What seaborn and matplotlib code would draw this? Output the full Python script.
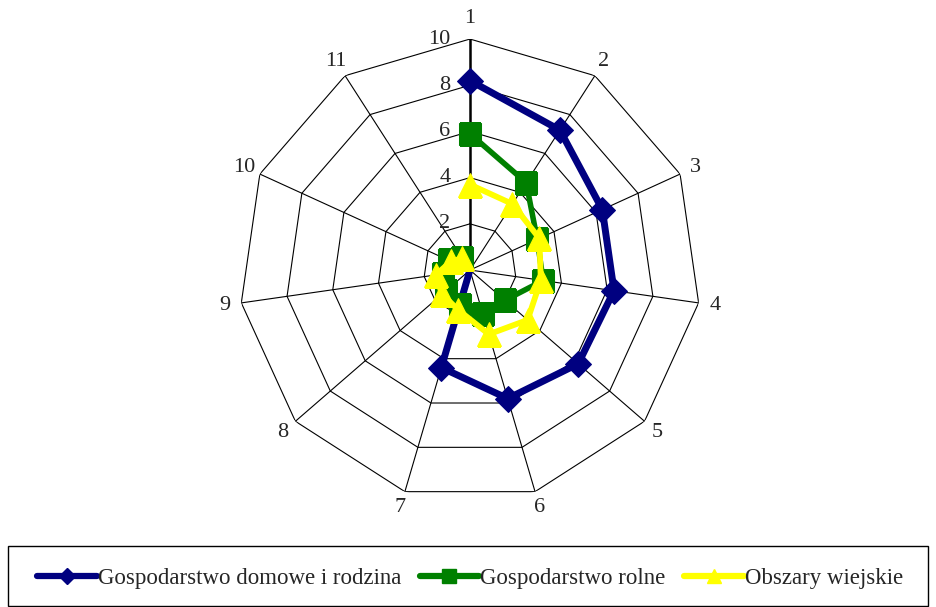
import numpy as np
import pandas as pd
import matplotlib
matplotlib.use('Agg')
import matplotlib.pyplot as plt
from matplotlib.patches import Rectangle
from matplotlib.lines import Line2D
import seaborn as sns

# -------------------------------
# DATA
# -------------------------------
categories = ['1', '2', '3', '4', '5', '6', '7', '8', '9', '10', '11']
# series 1 has values only for axes 1-7, then drops to the centre
dom_rodzina = [8.2, 7.2, 6.3, 6.3, 6.2, 5.8, 4.4, 0]
gosp_rolne = [5.9, 4.5, 3.2, 3.2, 2.0, 2.0, 1.6, 1.4, 1.2, 1.0, 0.6]
obszary_wiejskie = [3.7, 3.4, 3.3, 3.1, 3.3, 2.9, 1.8, 1.6, 1.5, 0.9, 0.6]
ring_levels = [0, 2, 4, 6, 8, 10]
series_names = ['Gospodarstwo domowe i rodzina', 'Gospodarstwo rolne', 'Obszary wiejskie']

sns.set_style('white')
plt.rcParams['font.family'] = ['Liberation Serif', 'DejaVu Serif']

n = len(categories)
theta = 2 * np.pi * np.arange(n) / n

fig = plt.figure(figsize=(9.36, 6.07), dpi=100)
ax = fig.add_axes([0.2553, 0.1746, 0.4936, 0.7611], projection='polar')
ax.set_theta_offset(np.pi / 2)
ax.set_theta_direction(-1)
ax.set_ylim(0, 10)
ax.grid(False)
ax.set_xticks([])
ax.set_yticks([])
ax.spines['polar'].set_visible(False)
ax.patch.set_alpha(0)

# polygon grid
closed_theta = np.append(theta, theta[0])
for r in ring_levels[1:]:
    ax.plot(closed_theta, [r] * (n + 1), color='black', lw=0.8, zorder=1)
for i, t in enumerate(theta):
    ax.plot([t, t], [0, 10], color='black', lw=1.8 if i == 0 else 0.8, zorder=1)

# radial tick labels along axis 1
for r in ring_levels:
    ax.annotate(str(r), xy=(0, r), xytext=(-14, 0), textcoords='offset points',
                ha='right', va='center', fontsize=16, annotation_clip=False)

# category labels
for t, lab in zip(theta, categories):
    rr = 10.9 if lab == '1' else 10.72
    ax.text(t, rr, lab, ha='center', va='center', fontsize=16, clip_on=False)

# series
df_blue = pd.DataFrame({'theta': theta[:len(dom_rodzina)], 'val': dom_rodzina})
sns.lineplot(data=df_blue, x='theta', y='val', ax=ax, sort=False, color='#000080',
             lw=5, marker='D', markersize=13, markeredgecolor='#000080',
             markevery=list(range(7)), zorder=3)

df_green = pd.DataFrame({'theta': closed_theta, 'val': gosp_rolne + gosp_rolne[:1]})
sns.lineplot(data=df_green, x='theta', y='val', ax=ax, sort=False, color='#008000',
             lw=4, marker='s', markersize=16, markeredgecolor='#008000', zorder=4)

df_yellow = pd.DataFrame({'theta': closed_theta, 'val': obszary_wiejskie + obszary_wiejskie[:1]})
sns.lineplot(data=df_yellow, x='theta', y='val', ax=ax, sort=False, color='#FFFF00',
             lw=4.2, marker='^', markersize=17, markeredgecolor='#FFFF00', zorder=5)
ax.set_xlabel('')
ax.set_ylabel('')
ax.set_ylim(0, 10)

# legend
fig.patches.append(Rectangle((8 / 936, 1 / 607), 920 / 936, 60 / 607, transform=fig.transFigure,
                             fill=False, edgecolor='black', lw=1))
handles = [
    Line2D([], [], color='#000080', lw=4.5, marker='D', markersize=8, markeredgecolor='#000080'),
    Line2D([], [], color='#008000', lw=4.5, marker='s', markersize=10, markeredgecolor='#008000'),
    Line2D([], [], color='#FFFF00', lw=4.5, marker='^', markersize=10, markeredgecolor='#FFFF00'),
]
fig.legend(handles, series_names, loc='center', bbox_to_anchor=(470 / 936, 1 - 578 / 607),
           ncol=3, frameon=False, fontsize=16.5, handlelength=2.6, handletextpad=0.05,
           columnspacing=0.8)

fig.savefig('out.png', dpi=100)
